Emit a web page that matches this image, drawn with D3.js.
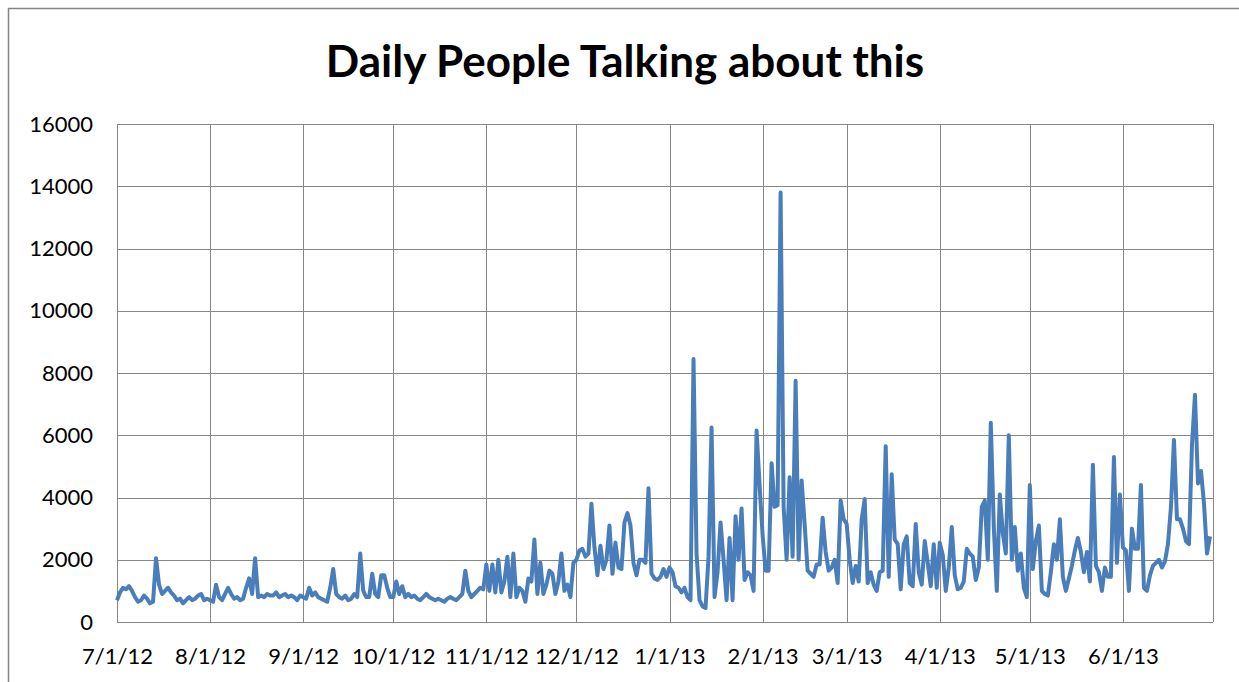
<!DOCTYPE html>
<html>
<head>
<meta charset="utf-8">
<script src="https://cdn.jsdelivr.net/npm/d3@7"></script>
<style>
  body { margin: 0; background: #fff; }
  svg { display: block; font-family: Lato, "Open Sans", sans-serif; }
</style>
</head>
<body>
<div class="chart"></div>
<script>
// daily values, one array per month (7/2012 .. 6/2013)
const jul12 = [700, 950, 1100, 1050, 1150, 1000, 800, 650, 700, 850, 750, 600, 650, 2050, 1200, 900, 1000, 1100, 950, 850, 700, 750, 600, 700, 800, 700, 750, 850, 900, 700, 750];
const aug12 = [700, 650, 1200, 800, 700, 900, 1100, 900, 750, 800, 700, 750, 1100, 1400, 900, 2050, 800, 850, 800, 900, 850, 850, 950, 800, 850, 900, 800, 850, 800, 700, 850];
const sep12 = [800, 750, 1100, 850, 950, 800, 750, 700, 650, 1100, 1700, 900, 800, 750, 850, 700, 750, 900, 800, 2200, 1000, 800, 800, 1550, 900, 800, 1500, 1500, 1100, 800];
const oct12 = [800, 1300, 900, 1150, 800, 900, 800, 850, 750, 700, 800, 900, 800, 750, 700, 750, 700, 650, 750, 800, 750, 700, 800, 900, 1650, 1000, 800, 900, 1000, 1100, 1050];
const nov12 = [1850, 1000, 1850, 950, 2000, 950, 1300, 2100, 800, 2200, 800, 1100, 1000, 650, 1400, 1300, 2650, 900, 1900, 900, 1200, 1650, 1550, 900, 1300, 2200, 1000, 1200, 800, 1900];
const dec12 = [2000, 2300, 2350, 2100, 2200, 3800, 2400, 1500, 2450, 1700, 2000, 3100, 1550, 2550, 1750, 1700, 3200, 3500, 3100, 1900, 1500, 2000, 2000, 1900, 4300, 1550, 1400, 1350, 1450, 1700, 1450];
const jan13 = [1750, 1600, 1150, 1100, 950, 1100, 800, 700, 8450, 2200, 700, 500, 450, 2100, 6250, 800, 1600, 3200, 2000, 700, 2700, 700, 3400, 2000, 3650, 1350, 1600, 1500, 1000, 6150, 4400];
const feb13 = [2800, 1650, 1650, 5100, 3700, 3750, 13800, 3700, 2000, 4650, 2100, 7750, 2000, 4550, 3150, 1650, 1550, 1450, 1850, 1850, 3350, 2250, 1650, 1750, 2000, 1250, 3900, 3300];
const mar13 = [3150, 2000, 1250, 1800, 1300, 3300, 3950, 1250, 1600, 1200, 1000, 1600, 1650, 5650, 1450, 4750, 2650, 2500, 1050, 2500, 2750, 1250, 1150, 3150, 1600, 1200, 2600, 1900, 1150, 2500, 1100];
const apr13 = [2550, 2150, 1000, 1750, 3050, 1500, 1050, 1100, 1300, 2350, 2200, 2100, 1350, 1750, 3700, 3900, 2000, 6400, 3050, 1000, 4100, 2850, 2200, 6000, 2000, 3050, 1650, 2200, 1100, 800];
const may13 = [4400, 1700, 2600, 3100, 1000, 900, 850, 1600, 2500, 2000, 3300, 1450, 1000, 1400, 1800, 2300, 2700, 2250, 1600, 2250, 1300, 5050, 1800, 1600, 1000, 1750, 1450, 1450, 5300, 1900, 4100];
const jun13 = [2400, 2300, 1000, 3000, 2350, 2350, 4400, 1100, 1000, 1500, 1800, 1900, 2000, 1750, 1950, 2500, 3700, 5850, 3300, 3300, 3000, 2600, 2500, 5700, 7300, 4450, 4850, 3800, 2200, 2750];

const months = [jul12, aug12, sep12, oct12, nov12, dec12, jan13, feb13, mar13, apr13, may13, jun13];
const yTicks = [0, 2000, 4000, 6000, 8000, 10000, 12000, 14000, 16000];
const title = "Daily People Talking about this";

const startDate = new Date(2012, 6, 1);
const data = [];
months.forEach((vals, m) => {
  vals.forEach((v, i) => {
    data.push({ date: new Date(2012, 6 + m, i + 1), value: v });
  });
});

const width = 1239, height = 682;
const plot = { left: 117, right: 1213, top: 124, bottom: 622 };

const svg = d3.select('.chart').append('svg')
  .attr('width', width)
  .attr('height', height);

// outer chart border
svg.append('rect')
  .attr('x', 8.5).attr('y', 8.5)
  .attr('width', 1240).attr('height', 700)
  .attr('fill', '#fff')
  .attr('stroke', '#868686')
  .attr('stroke-width', 1.5);

const x = d3.scaleTime()
  .domain([startDate, new Date(2013, 6, 1)])
  .range([plot.left, plot.right]);

const y = d3.scaleLinear()
  .domain([0, 16000])
  .range([plot.bottom, plot.top]);

const monthTicks = d3.timeMonth.range(startDate, new Date(2013, 6, 1));

// grid
svg.append('g')
  .selectAll('line')
  .data(yTicks)
  .enter().append('line')
  .attr('x1', plot.left).attr('x2', plot.right)
  .attr('y1', d => Math.round(y(d)) + 0.5).attr('y2', d => Math.round(y(d)) + 0.5)
  .attr('stroke', '#878787').attr('stroke-width', 1);

svg.append('g')
  .selectAll('line')
  .data(monthTicks.concat([new Date(2013, 6, 1)]))
  .enter().append('line')
  .attr('x1', d => Math.round(x(d)) + 0.5).attr('x2', d => Math.round(x(d)) + 0.5)
  .attr('y1', plot.top).attr('y2', plot.bottom)
  .attr('stroke', '#878787').attr('stroke-width', 1);

// axes
const yAxis = d3.axisLeft(y).tickValues(yTicks).tickFormat(d3.format('d'))
  .tickSize(0).tickPadding(24);
svg.append('g')
  .attr('transform', `translate(${plot.left},0)`)
  .call(yAxis)
  .call(g => g.select('.domain').remove())
  .selectAll('text')
  .attr('font-size', 22).attr('fill', '#000')
  .attr('font-family', 'Lato, sans-serif');

const xAxis = d3.axisBottom(x).tickValues(monthTicks)
  .tickFormat(d3.timeFormat('%-m/%-d/%y')).tickSize(0).tickPadding(26);
svg.append('g')
  .attr('transform', `translate(0,${plot.bottom})`)
  .call(xAxis)
  .call(g => g.select('.domain').remove())
  .selectAll('text')
  .attr('font-size', 22).attr('fill', '#000')
  .attr('font-family', 'Lato, sans-serif');

// line
const line = d3.line()
  .x(d => x(d.date))
  .y(d => y(d.value));

svg.append('path')
  .datum(data)
  .attr('d', line)
  .attr('fill', 'none')
  .attr('stroke', '#4a7ebb')
  .attr('stroke-width', 4)
  .attr('stroke-linejoin', 'round');

// title
svg.append('text')
  .attr('x', 625).attr('y', 77)
  .attr('text-anchor', 'middle')
  .attr('font-size', 44)
  .attr('font-weight', 'bold')
  .attr('font-family', 'Lato, sans-serif')
  .text(title);
</script>
</body>
</html>
